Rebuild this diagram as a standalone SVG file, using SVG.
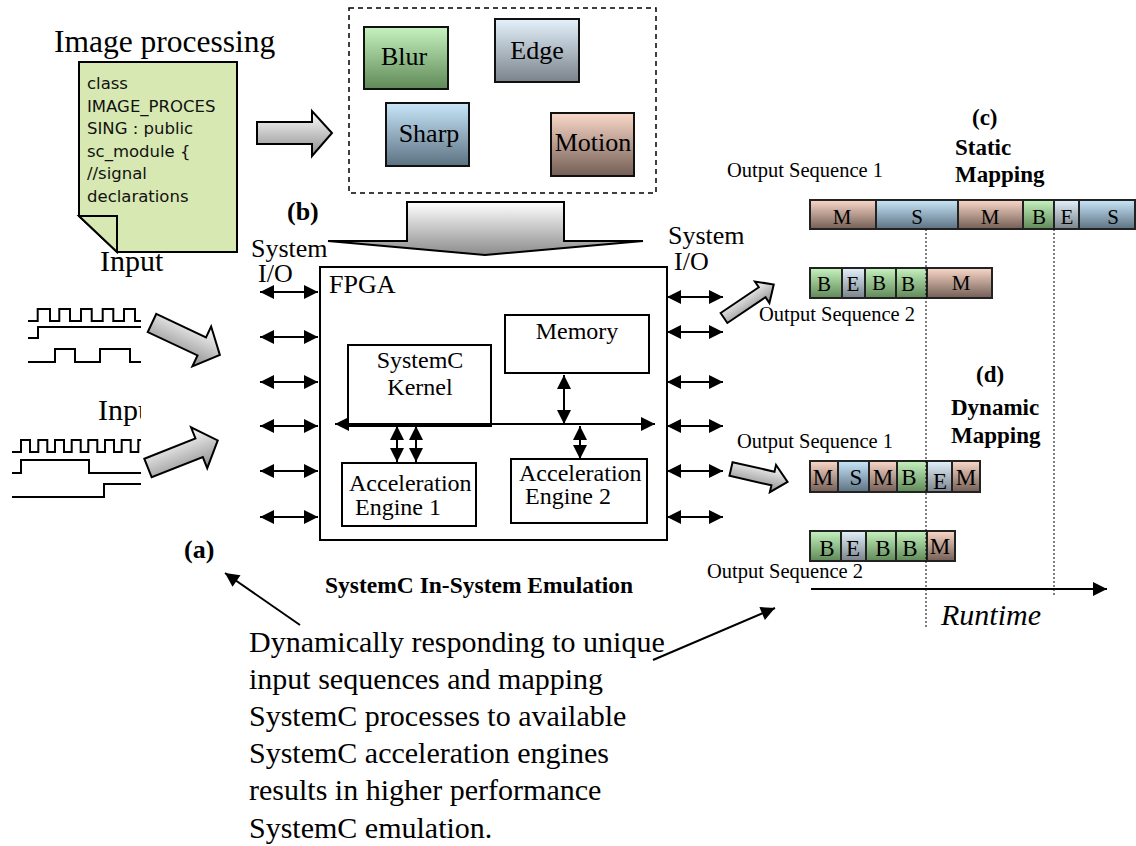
<svg xmlns="http://www.w3.org/2000/svg" width="1136" height="846" viewBox="0 0 1136 846">
  <style>
    .serif { font-family: "Liberation Serif", "Times New Roman", serif; fill: #000; }
    .bold { font-weight: bold; }
    .sans { font-family: "DejaVu Sans", "Liberation Sans", sans-serif; fill: #111; }
    .box { fill: #fff; stroke: #000; stroke-width: 2; }
    .tile { stroke: #111; stroke-width: 2; }
    .cell { stroke: #222; stroke-width: 2; }
    .wire { fill: none; stroke: #000; stroke-width: 2; }
    .dbl { stroke: #000; stroke-width: 2; marker-start: url(#ah); marker-end: url(#ah); }
    .one { stroke: #000; stroke-width: 2; marker-end: url(#ah); }
    .blk { fill: url(#gGray); stroke: #000; stroke-width: 2; stroke-linejoin: miter; }
    .dot { stroke: #000; stroke-width: 1; stroke-dasharray: 2 2; }
    .cM { fill: url(#gM); } .cS { fill: url(#gS); } .cB { fill: url(#gB); } .cE { fill: url(#gE); }
  </style>
  <defs>
    <marker id="ah" viewBox="0 0 10 10" refX="10" refY="5" markerWidth="15" markerHeight="14" markerUnits="userSpaceOnUse" orient="auto-start-reverse">
      <path d="M0,0 L10,5 L0,10 z" fill="#000"/>
    </marker>
    <linearGradient id="gGray" x1="0" y1="0" x2="0" y2="1">
      <stop offset="0" stop-color="#ffffff"/>
      <stop offset="1" stop-color="#8c8c8c"/>
    </linearGradient>
    <linearGradient id="gB" x1="0" y1="0" x2="0" y2="1">
      <stop offset="0" stop-color="#c6f2c0"/>
      <stop offset="1" stop-color="#5f8a58"/>
    </linearGradient>
    <linearGradient id="gE" x1="0" y1="0" x2="0" y2="1">
      <stop offset="0" stop-color="#e4f2fc"/>
      <stop offset="1" stop-color="#7a828a"/>
    </linearGradient>
    <linearGradient id="gS" x1="0" y1="0" x2="0" y2="1">
      <stop offset="0" stop-color="#c8e6fa"/>
      <stop offset="1" stop-color="#5c7282"/>
    </linearGradient>
    <linearGradient id="gM" x1="0" y1="0" x2="0" y2="1">
      <stop offset="0" stop-color="#fad8c8"/>
      <stop offset="1" stop-color="#735e55"/>
    </linearGradient>
    <clipPath id="clipIn2">
      <rect x="0" y="380" width="141" height="140"/>
    </clipPath>
  </defs>

  <!-- source code document -->
  <g id="doc">
    <text class="serif" x="54" y="52" font-size="31.5">Image processing</text>
    <path d="M79,62 H237 V252 H117 L79,216 Z" fill="#d7e8b2" stroke="#000" stroke-width="2"/>
    <path d="M79,216 H117 V252 Z" fill="#d7e8b2" stroke="#000" stroke-width="2" stroke-linejoin="miter"/>
    <g class="sans" font-size="16.5">
      <text x="87" y="89">class</text>
      <text x="87" y="111.5">IMAGE_PROCES</text>
      <text x="87" y="134">SING : public</text>
      <text x="87" y="156.5">sc_module {</text>
      <text x="87" y="179">//signal</text>
      <text x="87" y="201.5">declarations</text>
    </g>
  </g>

  <!-- process library -->
  <g id="processes">
    <rect x="349" y="8" width="307" height="185" fill="none" stroke="#000" stroke-width="1.5" stroke-dasharray="5 4"/>
    <g id="blur">
      <rect class="tile" x="364" y="27" width="84" height="62" fill="url(#gB)"/>
      <text class="serif" x="404" y="65" font-size="26" text-anchor="middle">Blur</text>
    </g>
    <g id="edge">
      <rect class="tile" x="495" y="19" width="84" height="63" fill="url(#gE)"/>
      <text class="serif" x="537" y="59" font-size="26" text-anchor="middle">Edge</text>
    </g>
    <g id="sharp">
      <rect class="tile" x="386" y="103" width="83" height="63" fill="url(#gS)"/>
      <text class="serif" x="429" y="142" font-size="26" text-anchor="middle">Sharp</text>
    </g>
    <g id="motion">
      <rect class="tile" x="551" y="113" width="83" height="63" fill="url(#gM)"/>
      <text class="serif" x="593" y="151" font-size="26" text-anchor="middle">Motion</text>
    </g>
  </g>

  <!-- block arrows -->
  <g id="block-arrows">
    <path class="blk" d="M257,122 H312 V111 L332,133 L312,156 V144 H257 Z"/>
    <path class="blk" d="M407,202 H564 V241 H643 L485,255 L328,241 H407 Z"/>
    <path class="blk" transform="translate(152,323) rotate(25.2)" d="M0,-10 H55 V-22 L75,0 L55,22 V10 H0 Z"/>
    <path class="blk" transform="translate(148,468) rotate(-21.6)" d="M0,-10 H55 V-22 L75,0 L55,22 V10 H0 Z"/>
    <path class="blk" transform="translate(724,318) rotate(-34)" d="M0,-6 H46 V-13 L60,0 L46,13 V6 H0 Z"/>
    <path class="blk" transform="translate(731,469) rotate(12.8)" d="M0,-7 H43 V-14 L58,0 L43,14 V7 H0 Z"/>
  </g>

  <!-- input waveforms -->
  <g id="input1">
    <text class="serif" x="100" y="271" font-size="30">Input</text>
    <path class="wire" d="M28,321 H37.7 V309 H50 V321 H59.3 V309 H70 V321 H81 V309 H91.7 V321 H102.7 V309 H113.3 V321 H124 V309 H135 V321 H141"/>
    <path class="wire" d="M28,338 H38 V327 H141"/>
    <path class="wire" d="M28,362 H55 V349 H75 V362 H100 V349 H130 V362 H141"/>
  </g>
  <g id="input2" clip-path="url(#clipIn2)">
    <text class="serif" x="98" y="420" font-size="30">Input</text>
    <path class="wire" d="M12,452 H21 V440 H30 V452 H38.3 V440 H47.3 V452 H55 V440 H64 V452 H71.7 V440 H80.7 V452 H88.3 V440 H97.3 V452 H105 V440 H114 V452 H121.7 V440 H130.7 V452 H138.3 V440 H147"/>
    <path class="wire" d="M12,473 H21 V460 H89 V473 H141"/>
    <path class="wire" d="M12,497 H104 V484 H141"/>
  </g>

  <!-- FPGA -->
  <g id="fpga">
    <rect class="box" x="320" y="267" width="347" height="273"/>
    <text class="serif" x="329" y="293" font-size="26">FPGA</text>
  </g>
  <g id="memory">
    <rect class="box" x="505" y="315" width="144" height="58"/>
    <text class="serif" x="577" y="339" font-size="24" text-anchor="middle">Memory</text>
  </g>
  <g id="kernel">
    <rect class="box" x="348" y="345" width="143" height="81"/>
    <text class="serif" x="420" y="368" font-size="24" text-anchor="middle">SystemC</text>
    <text class="serif" x="420" y="395" font-size="24" text-anchor="middle">Kernel</text>
  </g>
  <g id="engine1">
    <rect class="box" x="342" y="463" width="134" height="63"/>
    <text class="serif" x="349" y="491" font-size="24">Acceleration</text>
    <text class="serif" x="355" y="515" font-size="24">Engine 1</text>
  </g>
  <g id="engine2">
    <rect class="box" x="511" y="459" width="136" height="64"/>
    <text class="serif" x="519" y="481" font-size="24">Acceleration</text>
    <text class="serif" x="525" y="504" font-size="24">Engine 2</text>
  </g>

  <!-- labels -->
  <g id="labels">
    <text class="serif bold" x="287" y="220" font-size="26">(b)</text>
    <text class="serif" x="251" y="257" font-size="26">System</text>
    <text class="serif" x="258" y="282" font-size="26">I/O</text>
    <text class="serif" x="668" y="244" font-size="26">System</text>
    <text class="serif" x="674" y="270" font-size="26">I/O</text>
    <text class="serif bold" x="184" y="558" font-size="26">(a)</text>
    <text class="serif bold" x="325" y="593" font-size="23.5">SystemC In-System Emulation</text>
    <g class="serif" font-size="30">
      <text x="249" y="652">Dynamically responding to unique</text>
      <text x="249" y="689">input sequences and mapping</text>
      <text x="249" y="726">SystemC processes to available</text>
      <text x="249" y="763">SystemC acceleration engines</text>
      <text x="249" y="800">results in higher performance</text>
      <text x="249" y="838">SystemC emulation.</text>
    </g>
  </g>

  <!-- connectors -->
  <g id="connectors">
    <line class="dbl" x1="260" y1="292" x2="318" y2="292"/>
    <line class="dbl" x1="260" y1="337" x2="318" y2="337"/>
    <line class="dbl" x1="260" y1="382" x2="318" y2="382"/>
    <line class="dbl" x1="260" y1="426" x2="318" y2="426"/>
    <line class="dbl" x1="260" y1="471" x2="318" y2="471"/>
    <line class="dbl" x1="260" y1="517" x2="318" y2="517"/>
    <line class="dbl" x1="667" y1="297" x2="723" y2="297"/>
    <line class="dbl" x1="667" y1="332" x2="723" y2="332"/>
    <line class="dbl" x1="667" y1="382" x2="723" y2="382"/>
    <line class="dbl" x1="667" y1="426" x2="723" y2="426"/>
    <line class="dbl" x1="667" y1="471" x2="723" y2="471"/>
    <line class="dbl" x1="667" y1="517" x2="723" y2="517"/>
    <line class="dbl" x1="335" y1="424" x2="655" y2="424"/>
    <line class="dbl" x1="564" y1="375" x2="564" y2="424"/>
    <line class="dbl" x1="397" y1="426" x2="397" y2="462"/>
    <line class="dbl" x1="416" y1="426" x2="416" y2="462"/>
    <line class="dbl" x1="580" y1="426" x2="580" y2="459"/>
    <line class="one" x1="300" y1="625" x2="225" y2="573"/>
    <line class="one" x1="653" y1="660" x2="775" y2="608"/>
  </g>

  <!-- static mapping timeline -->
  <g id="static-mapping">
    <text class="serif bold" x="972" y="125" font-size="23">(c)</text>
    <text class="serif bold" x="955" y="155" font-size="23">Static</text>
    <text class="serif bold" x="955" y="182" font-size="23">Mapping</text>
    <text class="serif" x="727" y="177" font-size="20.5">Output Sequence 1</text>
    <text class="serif" x="759" y="321" font-size="20.5">Output Sequence 2</text>
    <rect class="cell cM" x="810" y="200" width="66" height="29"/>
    <rect class="cell cS" x="876" y="200" width="82" height="29"/>
    <rect class="cell cM" x="958" y="200" width="65" height="29"/>
    <rect class="cell cB" x="1023" y="200" width="31" height="29"/>
    <rect class="cell cE" x="1054" y="200" width="25" height="29"/>
    <rect class="cell cS" x="1079" y="200" width="56" height="29"/>
    <g class="serif" font-size="21" text-anchor="middle">
      <text x="842" y="224">M</text><text x="917" y="224">S</text><text x="990" y="224">M</text>
      <text x="1039" y="224">B</text><text x="1067" y="224">E</text><text x="1113" y="224">S</text>
    </g>
    <rect class="cell cB" x="810" y="268" width="32" height="30"/>
    <rect class="cell cE" x="842" y="268" width="23" height="30"/>
    <rect class="cell cB" x="865" y="268" width="31" height="30"/>
    <rect class="cell cB" x="896" y="268" width="31" height="30"/>
    <rect class="cell cM" x="927" y="268" width="65" height="30"/>
    <g class="serif" font-size="21" text-anchor="middle">
      <text x="824" y="291">B</text><text x="853" y="291">E</text><text x="879" y="290">B</text>
      <text x="908" y="291">B</text><text x="961" y="290">M</text>
    </g>
  </g>

  <!-- dynamic mapping timeline -->
  <g id="dynamic-mapping">
    <text class="serif bold" x="976" y="382" font-size="23">(d)</text>
    <text class="serif bold" x="951" y="415" font-size="23">Dynamic</text>
    <text class="serif bold" x="951" y="443" font-size="23">Mapping</text>
    <text class="serif" x="737" y="448" font-size="20.5">Output Sequence 1</text>
    <text class="serif" x="707" y="578" font-size="20.5">Output Sequence 2</text>
    <rect class="cell cM" x="810" y="461" width="28" height="31"/>
    <rect class="cell cS" x="838" y="461" width="31" height="31"/>
    <rect class="cell cM" x="869" y="461" width="28" height="31"/>
    <rect class="cell cB" x="897" y="461" width="30" height="31"/>
    <rect class="cell cE" x="927" y="461" width="25" height="31"/>
    <rect class="cell cM" x="952" y="461" width="28" height="31"/>
    <g class="serif" font-size="23" text-anchor="middle">
      <text x="823" y="485">M</text><text x="856" y="485">S</text><text x="883" y="485">M</text>
      <text x="909" y="485">B</text><text x="940" y="489">E</text><text x="966" y="485">M</text>
    </g>
    <rect class="cell cB" x="810" y="531" width="31" height="30"/>
    <rect class="cell cE" x="841" y="531" width="25" height="30"/>
    <rect class="cell cB" x="866" y="531" width="30" height="30"/>
    <rect class="cell cB" x="896" y="531" width="31" height="30"/>
    <rect class="cell cM" x="927" y="531" width="28" height="30"/>
    <g class="serif" font-size="23" text-anchor="middle">
      <text x="827" y="556">B</text><text x="853" y="556">E</text><text x="883" y="556">B</text>
      <text x="910" y="556">B</text><text x="940" y="554">M</text>
    </g>
  </g>

  <!-- runtime axis and phase markers -->
  <g id="runtime">
    <line class="dot" x1="926" y1="229" x2="926" y2="627"/>
    <line class="dot" x1="1054" y1="229" x2="1054" y2="597"/>
    <line class="one" x1="811" y1="589" x2="1107" y2="589"/>
    <text class="serif" x="941" y="625" font-size="30" font-style="italic">Runtime</text>
  </g>
</svg>
